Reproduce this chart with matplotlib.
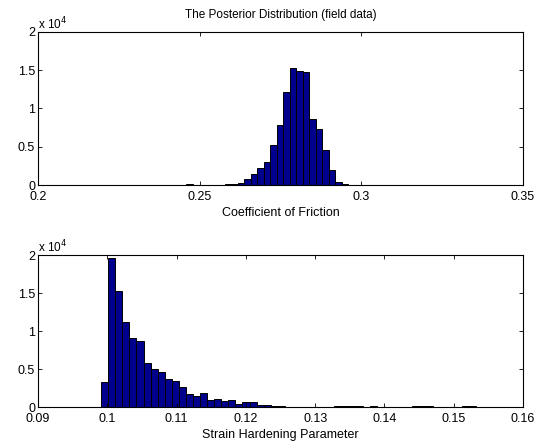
# posterior histograms, MATLAB-looking figure

import numpy as np
import matplotlib
matplotlib.use('Agg')
import matplotlib.pyplot as plt
from matplotlib.ticker import FuncFormatter

# coefficient of friction histogram (counts per bin)
friction_start = 0.24578
friction_width = 0.002005
friction_counts = [120, 20, 50, 50, 50, 50, 150, 150, 200, 740,
                   1480, 2220, 2960, 5270, 7890, 12110, 15340, 14950, 14730, 8630,
                   7320, 4530, 1920, 430, 100, 60, 40]

# strain hardening parameter histogram
strain_start = 0.09911
strain_width = 0.00102
strain_counts = [3290, 19560, 15220, 11180, 9030, 8680, 5790, 5040, 4610, 3680,
                 3420, 2590, 1710, 1400, 1800, 920, 1050, 750, 920, 350,
                 660, 610, 300, 250, 100, 80, 60, 60, 50, 40,
                 20, 20, 20, 100, 100, 100, 100, 20, 100, 20,
                 20, 20, 20, 20, 80, 80, 80, 20, 20, 20,
                 20, 80, 80]

friction_ticks = [0.2, 0.25, 0.3, 0.35]
strain_ticks = [0.09, 0.1, 0.11, 0.12, 0.13, 0.14, 0.15, 0.16]
count_ticks = [0, 5000, 10000, 15000, 20000]

plt.rcParams['font.family'] = 'Liberation Sans'
plt.rcParams['font.size'] = 9

fig = plt.figure(figsize=(5.46, 4.48), dpi=100)

W, H = 546.0, 448.0
ax1 = fig.add_axes([38 / W, 1 - 185 / H, 485 / W, 153 / H])
ax2 = fig.add_axes([38 / W, 1 - 407 / H, 485 / W, 152 / H])


def draw_hist(ax, start, width, counts, xticks, xlabel):
    edges = start + width * np.arange(len(counts) + 1)
    ax.hist(edges[:-1], bins=edges, weights=counts,
            color='#00008c', edgecolor='black', linewidth=0.7)
    ax.set_xlim(xticks[0], xticks[-1])
    ax.set_ylim(0, 20000)
    ax.set_xticks(xticks)
    ax.set_xticklabels(['%g' % t for t in xticks])
    ax.set_yticks(count_ticks)
    ax.yaxis.set_major_formatter(FuncFormatter(lambda v, p: '%g' % (v / 1e4)))
    ax.tick_params(direction='in', top=True, right=True, length=3,
                   width=0.6, colors='black')
    ax.tick_params(axis='x', pad=4.5)
    ax.tick_params(axis='y', pad=2)
    for s in ax.spines.values():
        s.set_linewidth(0.8)
    ax.set_xlabel(xlabel, labelpad=3)
    ax.text(0.0, 1.0, r'x 10$^4$', transform=ax.transAxes,
            ha='left', va='bottom', fontsize=8.5)


draw_hist(ax1, friction_start, friction_width, friction_counts,
          friction_ticks, 'Coefficient of Friction')
draw_hist(ax2, strain_start, strain_width, strain_counts,
          strain_ticks, 'Strain Hardening Parameter')

ax1.set_title('The Posterior Distribution (field data)', pad=10, fontsize=8.5)

fig.savefig('out.png', dpi=100)
